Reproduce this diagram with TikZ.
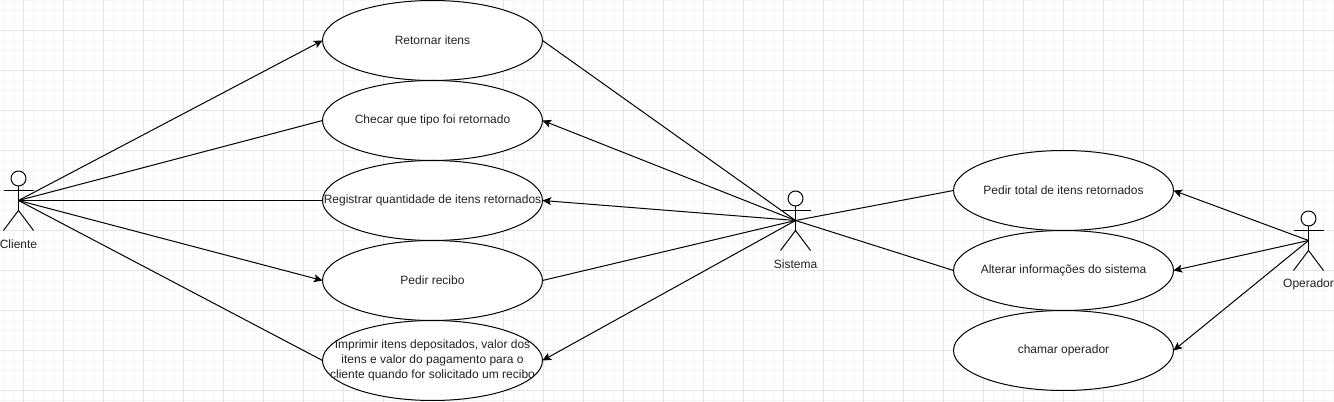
\documentclass[tikz,border=0pt]{standalone}
\usepackage{xcolor}
\usepackage{fontspec}
\setmainfont{Liberation Sans}
\usepackage{tikz}
\usetikzlibrary{arrows.meta,shapes.geometric}
\definecolor{gridMajor}{HTML}{E4E4E4}
\definecolor{gridMinor}{HTML}{F6F6F6}
\definecolor{inkText}{HTML}{222222}
\tikzset{
    minorgrid/.style={draw=gridMinor, line width=0.75pt},
    majorgrid/.style={draw=gridMajor, line width=0.75pt},
    usecase/.style={ellipse, draw=black, fill=white, line width=0.75pt, minimum width=165pt, minimum height=60pt, inner xsep=-30pt, inner ysep=0pt, outer sep=0pt, font=\fontsize{9}{11}\selectfont, text=inkText, align=center},
    actorname/.style={font=\fontsize{9}{11}\selectfont, text=inkText, inner sep=0pt},
    assoc/.style={draw=black, line width=0.75pt},
    request/.style={assoc, -{Stealth[length=6.5pt,width=6pt,inset=1.5pt]}},
    stickman/.pic={
        \draw[assoc, fill=white] (0,-22) circle[radius=5.6pt];
        \draw[assoc] (0,-14.5) -- (0,10);
        \draw[assoc] (-15,-10) -- (15,-10);
        \draw[assoc] (-15,30) -- (0,10) -- (15,30);
    }
}
\begin{document}
\begin{tikzpicture}[x=0.75pt, y=-0.75pt]
        \useasboundingbox (0,0) rectangle (1334,402);
        \fill[white] (0,0) rectangle (1334,402);

        % background grid
        \foreach \gx in {3.5,13.5,...,1333.5} \draw[minorgrid] (\gx,0) -- (\gx,402);
        \foreach \gy in {0.5,10.5,...,400.5} \draw[minorgrid] (0,\gy) -- (1334,\gy);
        \foreach \gx in {23.5,63.5,...,1303.5} \draw[majorgrid] (\gx,0) -- (\gx,402);
        \foreach \gy in {30.5,70.5,...,390.5} \draw[majorgrid] (0,\gy) -- (1334,\gy);

        % use cases
        \node (retornar) [usecase] at (432.5,40.5) {Retornar itens};
        \node (checar) [usecase, below of=retornar, node distance=60pt] {Checar que tipo foi retornado};
        \node (registrar) [usecase, below of=checar, node distance=60pt] {Registrar quantidade de itens retornados};
        \node (recibo) [usecase, below of=registrar, node distance=60pt] {Pedir recibo};
        \node (imprimir) [usecase, below of=recibo, node distance=60pt] {Imprimir itens depositados, valor dos\\itens e valor do pagamento para o\\cliente quando for solicitado um recibo};

        \node (total) [usecase] at (1063.5,190.5) {Pedir total de itens retornados};
        \node (alterar) [usecase, below of=total, node distance=60pt] {Alterar informações do sistema};
        \node (chamar) [usecase, below of=alterar, node distance=60pt] {chamar operador};

        % actors
        \coordinate (cliente) at (18.5,200.5);
        \coordinate (sistema) at (795.5,220.5);
        \coordinate (operador) at (1308.5,240.5);
        \pic at (cliente) {stickman};
        \pic at (sistema) {stickman};
        \pic at (operador) {stickman};
        \node (lblCliente) [actorname, below of=cliente, node distance=33pt] {Cliente};
        \node (lblSistema) [actorname, below of=sistema, node distance=33pt] {Sistema};
        \node (lblOperador) [actorname, below of=operador, node distance=33pt] {Operador};

        % cliente
        \draw[request] (cliente) -- (retornar.west);
        \draw[assoc] (cliente) -- (checar.west);
        \draw[assoc] (cliente) -- (registrar.west);
        \draw[request] (cliente) -- (recibo.west);
        \draw[assoc] (cliente) -- (imprimir.west);

        % sistema
        \draw[assoc] (retornar.east) -- (sistema);
        \draw[request] (sistema) -- (checar.east);
        \draw[request] (sistema) -- (registrar.east);
        \draw[assoc] (recibo.east) -- (sistema);
        \draw[request] (sistema) -- (imprimir.east);
        \draw[assoc] (sistema) -- (total.west);
        \draw[assoc] (sistema) -- (alterar.west);

        % operador
        \draw[request] (operador) -- (total.east);
        \draw[request] (operador) -- (alterar.east);
        \draw[request] (operador) -- (chamar.east);
    \end{tikzpicture}
\end{document}
